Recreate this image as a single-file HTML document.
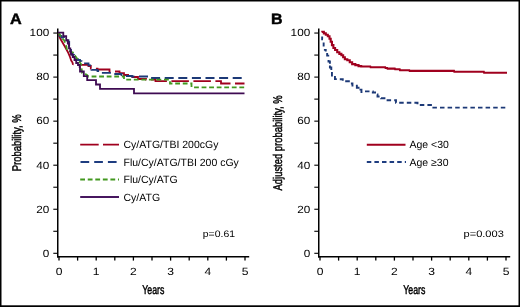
<!DOCTYPE html>
<html><head><meta charset="utf-8"><style>
html,body{margin:0;padding:0;background:#fff;}
body{width:520px;height:307px;overflow:hidden;position:relative;}
svg{display:block;position:absolute;left:0;top:0;will-change:transform;}
text{font-family:"Liberation Sans",sans-serif;fill:#000;}
.tk{font-size:10.5px;}
.lg{font-size:10.5px;}
.pl{font-size:15px;font-weight:bold;stroke:#000;stroke-width:0.45px;}
.cd{font-size:12.6px;stroke:#000;stroke-width:0.45px;}
</style></head><body>
<svg width="520" height="307" viewBox="0 0 520 307">
<rect x="0" y="0" width="520" height="307" fill="#fff"/>
<rect x="0" y="0" width="520" height="1.5" fill="#000"/>
<rect x="0" y="0" width="1.5" height="307" fill="#000"/>
<rect x="518.5" y="0" width="1.5" height="307" fill="#000"/>
<rect x="0" y="305.3" width="520" height="1.7" fill="#000"/>
<text transform="translate(9.9,23.6) scale(1.08,1) skewX(0.1)" class="pl">A</text>
<text transform="translate(271.0,23.6) scale(1.07,1) skewX(0.1)" class="pl">B</text>
<line x1="57.75" y1="28.5" x2="57.75" y2="257.4" stroke="#000" stroke-width="1.5"/>
<line x1="57.0" y1="256.7" x2="249.2" y2="256.7" stroke="#000" stroke-width="1.4"/>
<line x1="53.3" y1="253.30" x2="57.75" y2="253.30" stroke="#000" stroke-width="1.1"/>
<line x1="53.3" y1="231.28" x2="57.75" y2="231.28" stroke="#000" stroke-width="1.1"/>
<line x1="53.3" y1="209.25" x2="57.75" y2="209.25" stroke="#000" stroke-width="1.1"/>
<line x1="53.3" y1="187.23" x2="57.75" y2="187.23" stroke="#000" stroke-width="1.1"/>
<line x1="53.3" y1="165.20" x2="57.75" y2="165.20" stroke="#000" stroke-width="1.1"/>
<line x1="53.3" y1="143.18" x2="57.75" y2="143.18" stroke="#000" stroke-width="1.1"/>
<line x1="53.3" y1="121.15" x2="57.75" y2="121.15" stroke="#000" stroke-width="1.1"/>
<line x1="53.3" y1="99.12" x2="57.75" y2="99.12" stroke="#000" stroke-width="1.1"/>
<line x1="53.3" y1="77.10" x2="57.75" y2="77.10" stroke="#000" stroke-width="1.1"/>
<line x1="53.3" y1="55.07" x2="57.75" y2="55.07" stroke="#000" stroke-width="1.1"/>
<line x1="53.3" y1="33.05" x2="57.75" y2="33.05" stroke="#000" stroke-width="1.1"/>
<line x1="59.00" y1="256.4" x2="59.00" y2="260.6" stroke="#000" stroke-width="1.3"/>
<line x1="77.60" y1="256.4" x2="77.60" y2="260.6" stroke="#000" stroke-width="1.3"/>
<line x1="96.20" y1="256.4" x2="96.20" y2="260.6" stroke="#000" stroke-width="1.3"/>
<line x1="114.80" y1="256.4" x2="114.80" y2="260.6" stroke="#000" stroke-width="1.3"/>
<line x1="133.40" y1="256.4" x2="133.40" y2="260.6" stroke="#000" stroke-width="1.3"/>
<line x1="152.00" y1="256.4" x2="152.00" y2="260.6" stroke="#000" stroke-width="1.3"/>
<line x1="170.60" y1="256.4" x2="170.60" y2="260.6" stroke="#000" stroke-width="1.3"/>
<line x1="189.20" y1="256.4" x2="189.20" y2="260.6" stroke="#000" stroke-width="1.3"/>
<line x1="207.80" y1="256.4" x2="207.80" y2="260.6" stroke="#000" stroke-width="1.3"/>
<line x1="226.40" y1="256.4" x2="226.40" y2="260.6" stroke="#000" stroke-width="1.3"/>
<line x1="245.00" y1="256.4" x2="245.00" y2="260.6" stroke="#000" stroke-width="1.3"/>
<line x1="318.75" y1="28.5" x2="318.75" y2="257.4" stroke="#000" stroke-width="1.5"/>
<line x1="318.0" y1="256.7" x2="510.2" y2="256.7" stroke="#000" stroke-width="1.4"/>
<line x1="314.3" y1="253.30" x2="318.75" y2="253.30" stroke="#000" stroke-width="1.1"/>
<line x1="314.3" y1="231.28" x2="318.75" y2="231.28" stroke="#000" stroke-width="1.1"/>
<line x1="314.3" y1="209.25" x2="318.75" y2="209.25" stroke="#000" stroke-width="1.1"/>
<line x1="314.3" y1="187.23" x2="318.75" y2="187.23" stroke="#000" stroke-width="1.1"/>
<line x1="314.3" y1="165.20" x2="318.75" y2="165.20" stroke="#000" stroke-width="1.1"/>
<line x1="314.3" y1="143.18" x2="318.75" y2="143.18" stroke="#000" stroke-width="1.1"/>
<line x1="314.3" y1="121.15" x2="318.75" y2="121.15" stroke="#000" stroke-width="1.1"/>
<line x1="314.3" y1="99.12" x2="318.75" y2="99.12" stroke="#000" stroke-width="1.1"/>
<line x1="314.3" y1="77.10" x2="318.75" y2="77.10" stroke="#000" stroke-width="1.1"/>
<line x1="314.3" y1="55.07" x2="318.75" y2="55.07" stroke="#000" stroke-width="1.1"/>
<line x1="314.3" y1="33.05" x2="318.75" y2="33.05" stroke="#000" stroke-width="1.1"/>
<line x1="320.00" y1="256.4" x2="320.00" y2="260.6" stroke="#000" stroke-width="1.3"/>
<line x1="338.60" y1="256.4" x2="338.60" y2="260.6" stroke="#000" stroke-width="1.3"/>
<line x1="357.20" y1="256.4" x2="357.20" y2="260.6" stroke="#000" stroke-width="1.3"/>
<line x1="375.80" y1="256.4" x2="375.80" y2="260.6" stroke="#000" stroke-width="1.3"/>
<line x1="394.40" y1="256.4" x2="394.40" y2="260.6" stroke="#000" stroke-width="1.3"/>
<line x1="413.00" y1="256.4" x2="413.00" y2="260.6" stroke="#000" stroke-width="1.3"/>
<line x1="431.60" y1="256.4" x2="431.60" y2="260.6" stroke="#000" stroke-width="1.3"/>
<line x1="450.20" y1="256.4" x2="450.20" y2="260.6" stroke="#000" stroke-width="1.3"/>
<line x1="468.80" y1="256.4" x2="468.80" y2="260.6" stroke="#000" stroke-width="1.3"/>
<line x1="487.40" y1="256.4" x2="487.40" y2="260.6" stroke="#000" stroke-width="1.3"/>
<line x1="506.00" y1="256.4" x2="506.00" y2="260.6" stroke="#000" stroke-width="1.3"/>
<text transform="translate(49.2,256.60) scale(1.12,1) skewX(0.1)" text-anchor="end" class="tk">0</text>
<text transform="translate(49.2,212.55) scale(1.12,1) skewX(0.1)" text-anchor="end" class="tk">20</text>
<text transform="translate(49.2,168.50) scale(1.12,1) skewX(0.1)" text-anchor="end" class="tk">40</text>
<text transform="translate(49.2,124.45) scale(1.12,1) skewX(0.1)" text-anchor="end" class="tk">60</text>
<text transform="translate(49.2,80.40) scale(1.12,1) skewX(0.1)" text-anchor="end" class="tk">80</text>
<text transform="translate(49.2,36.35) scale(1.12,1) skewX(0.1)" text-anchor="end" class="tk">100</text>
<text transform="translate(310.2,256.60) scale(1.12,1) skewX(0.1)" text-anchor="end" class="tk">0</text>
<text transform="translate(310.2,212.55) scale(1.12,1) skewX(0.1)" text-anchor="end" class="tk">20</text>
<text transform="translate(310.2,168.50) scale(1.12,1) skewX(0.1)" text-anchor="end" class="tk">40</text>
<text transform="translate(310.2,124.45) scale(1.12,1) skewX(0.1)" text-anchor="end" class="tk">60</text>
<text transform="translate(310.2,80.40) scale(1.12,1) skewX(0.1)" text-anchor="end" class="tk">80</text>
<text transform="translate(310.2,36.35) scale(1.12,1) skewX(0.1)" text-anchor="end" class="tk">100</text>
<text transform="translate(59.00,275.4) scale(1.15,1) skewX(0.1)" text-anchor="middle" class="tk">0</text>
<text transform="translate(96.20,275.4) scale(1.15,1) skewX(0.1)" text-anchor="middle" class="tk">1</text>
<text transform="translate(133.40,275.4) scale(1.15,1) skewX(0.1)" text-anchor="middle" class="tk">2</text>
<text transform="translate(170.60,275.4) scale(1.15,1) skewX(0.1)" text-anchor="middle" class="tk">3</text>
<text transform="translate(207.80,275.4) scale(1.15,1) skewX(0.1)" text-anchor="middle" class="tk">4</text>
<text transform="translate(245.00,275.4) scale(1.15,1) skewX(0.1)" text-anchor="middle" class="tk">5</text>
<text transform="translate(320.00,275.4) scale(1.15,1) skewX(0.1)" text-anchor="middle" class="tk">0</text>
<text transform="translate(357.20,275.4) scale(1.15,1) skewX(0.1)" text-anchor="middle" class="tk">1</text>
<text transform="translate(394.40,275.4) scale(1.15,1) skewX(0.1)" text-anchor="middle" class="tk">2</text>
<text transform="translate(431.60,275.4) scale(1.15,1) skewX(0.1)" text-anchor="middle" class="tk">3</text>
<text transform="translate(468.80,275.4) scale(1.15,1) skewX(0.1)" text-anchor="middle" class="tk">4</text>
<text transform="translate(506.00,275.4) scale(1.15,1) skewX(0.1)" text-anchor="middle" class="tk">5</text>
<text transform="translate(153.3,293.6) scale(0.70,1) skewX(0.1)" text-anchor="middle" class="cd">Years</text>
<text transform="translate(414.3,293.6) scale(0.70,1) skewX(0.1)" text-anchor="middle" class="cd">Years</text>
<text transform="translate(20.8,171.3) rotate(-90) scale(0.75,1) skewX(0.1)" class="cd">Probability, %</text>
<text transform="translate(281.8,190.5) rotate(-90) scale(0.749,1) skewX(0.1)" class="cd">Adjusted probability, %</text>
<path d="M58.6,33 L59.3,36.5 L60.5,39 L65,46.7 L66.5,49.5 L68.4,53.1 L70,57 L71.2,60.5 L72.5,62.5 L73,64.8" fill="none" stroke="#a0001e" stroke-width="1.8" stroke-linejoin="miter"/>
<path d="M73,64.8 H88.5 V66 H90.8 V68.6 H97.5 V69.5 H109.5 V71.5 H119.5 V73.2 H124 V75 H131 V77 H138 V79 H146 V79.6 H155.5 V81.1 H221 V83.5 H244.5" fill="none" stroke="#a0001e" stroke-width="1.8" stroke-dasharray="17.5 4.5" stroke-dashoffset="17.3" stroke-linejoin="miter"/>
<path d="M58.5,33 H59.5 V36 H61.5 V37.5 H64 V39 H66.5 V40.5 H68.5 V42 H69.2 V46 H69.8 V50 H71 V53 H72.5 V55 H74 V57 H75.4 V58.8 H77.7 V60 H80 V61.1 H81.5 V63.4 H88.5 V65.3 H90.2 V67 H91.5 V69.8 H97.5 V71 H101 V72.8 H111 V73 H114 V74 H121.5 V75 H124 V76 H132 V76.5 H148 V78 H244.5" fill="none" stroke="#1c3977" stroke-width="1.8" stroke-dasharray="9 4.6" stroke-dashoffset="-1.6" stroke-linejoin="miter"/>
<path d="M58.5,33 L60,35 L62,38.5 L64,40 L65.5,43.5 L66.3,46 L67,50.5 L70,51.5 L73,52.5 L74.5,55 L76,57 L78.5,60.5 L81,64 L81.5,68 L82.2,73 L86.5,74.6 L88.5,76.5 H124 V79.6 H170 V83.5 H191.5 V87.3 H244.5" fill="none" stroke="#42981f" stroke-width="1.8" stroke-dasharray="4.8 2.75" stroke-dashoffset="0.5" stroke-linejoin="miter"/>
<path d="M58,32.7 H63.3 V36.1 H66.2 V40.2 H67.8 V43.5 H69 V48.3 H70.3 V51.5 H71 V54.5 H72.7 V57 H74.5 V60 H76.2 V63 H78 V65 H79.7 V67 H80 V71.5 H83.8 V76.2 H87.2 V80.1 H96 V84.5 H100 V88.9 H134 V93.4 H244.5" fill="none" stroke="#3e0b52" stroke-width="1.8" stroke-linejoin="miter"/>
<path d="M322.15,36.6 V39.25 H323 M323.65,42.5 V45.65 H324.6 M323.9,49.85 H325.75 V51.6 M327.15,53 V55.65 H329.2 M328.5,60 V61.5 H329.9 V63.7 M329.9,65.5 V67.5 H331.3 V70 M331.95,71.9 V76.4 M334.95,76 V79.15 H336.8 M339.8,79.25 H342.75 V80.8 M345.2,81.2 H349.8 M350.9,83.55 H352.45 V86.5 M356.85,84.7 V87.75 H359.5 M359.5,89.65 H361.45 V93" fill="none" stroke="#1c3977" stroke-width="1.9" stroke-linejoin="miter"/>
<path d="M362.5,91.4 H372.8 V92.5 H376.5 V94.5 H377.5 V96.5 H381 V98.3 H386.5 V100.2 H396 V102.8 H417.5 V105 H432 V107.6 H506" fill="none" stroke="#1c3977" stroke-width="1.9" stroke-dasharray="4.5 3.1" stroke-dashoffset="5.1" stroke-linejoin="miter"/>
<path d="M321.7,31.9 H322.3 V31.7 H322.9 H323.85 V33.4 H324.8 H325.8 V34.8 H326.8 H327.8 V36.3 H328.8 H329.5 V38.8 H330.2 H330.7 V41.7 H331.2 H331.95 V45.1 H332.7 H333.4 V48 H334.1 H335.1 V50 H336.1 H337.2 V52.2 H338.3 H339.35 V53.9 H340.4 H341.4 V55.3 H342.4 H343.15 V57.3 H343.9 H344.85 V59.2 H345.8 H347.3 V60.2 H348.8 H349.75 V62.2 H350.7 H352.15 V64.1 H353.6 H355.35 V65.1 H357.1 H358.55 V66.1 H360 H361.2 V66.5 H362.4 L370.3,66.5 L370.6,67.3 L385.2,67.3 L385.5,68 L387.2,68 L387.5,68.6 L394.8,68.6 L395.1,69.3 L399.7,69.3 L400,70.2 L409.3,70.2 L409.6,70.9 L454,70.9 L454.3,71.8 L483.8,71.8 L484.1,72.8 L507,72.8" fill="none" stroke="#a0001e" stroke-width="2.1" stroke-linejoin="miter"/>
<line x1="80.2" y1="144.6" x2="119" y2="144.6" stroke="#a0001e" stroke-width="1.9" stroke-dasharray="18.5 4.3"/>
<line x1="80.5" y1="162" x2="117" y2="162" stroke="#1e3d80" stroke-width="1.8" stroke-dasharray="8.7 5"/>
<line x1="80.2" y1="179.5" x2="119" y2="179.5" stroke="#42981f" stroke-width="1.9" stroke-dasharray="4.8 2.75"/>
<line x1="80.2" y1="197" x2="119" y2="197" stroke="#47175f" stroke-width="1.8"/>
<text transform="translate(123.5,148) skewX(0.1)" class="lg">Cy/ATG/TBI 200cGy</text>
<text transform="translate(123.5,165.5) skewX(0.1)" class="lg">Flu/Cy/ATG/TBI 200 cGy</text>
<text transform="translate(123.5,183) skewX(0.1)" class="lg">Flu/Cy/ATG</text>
<text transform="translate(123.5,200.5) skewX(0.1)" class="lg">Cy/ATG</text>
<text transform="translate(202.8,236.9) scale(1.11,1) skewX(0.1)" style="font-size:9.4px">p=0.61</text>
<line x1="366.8" y1="144.7" x2="405.5" y2="144.7" stroke="#a0001e" stroke-width="2.1"/>
<line x1="366.8" y1="162" x2="406" y2="162" stroke="#1e3d80" stroke-width="1.8" stroke-dasharray="4.5 3.1"/>
<text transform="translate(409.5,148) skewX(0.1)" class="lg">Age &lt;30</text>
<text transform="translate(409.5,165.6) skewX(0.1)" class="lg">Age &#8805;30</text>
<text transform="translate(463.5,236.6) scale(1.18,1) skewX(0.1)" style="font-size:9.4px">p=0.003</text>
</svg>
</body></html>
